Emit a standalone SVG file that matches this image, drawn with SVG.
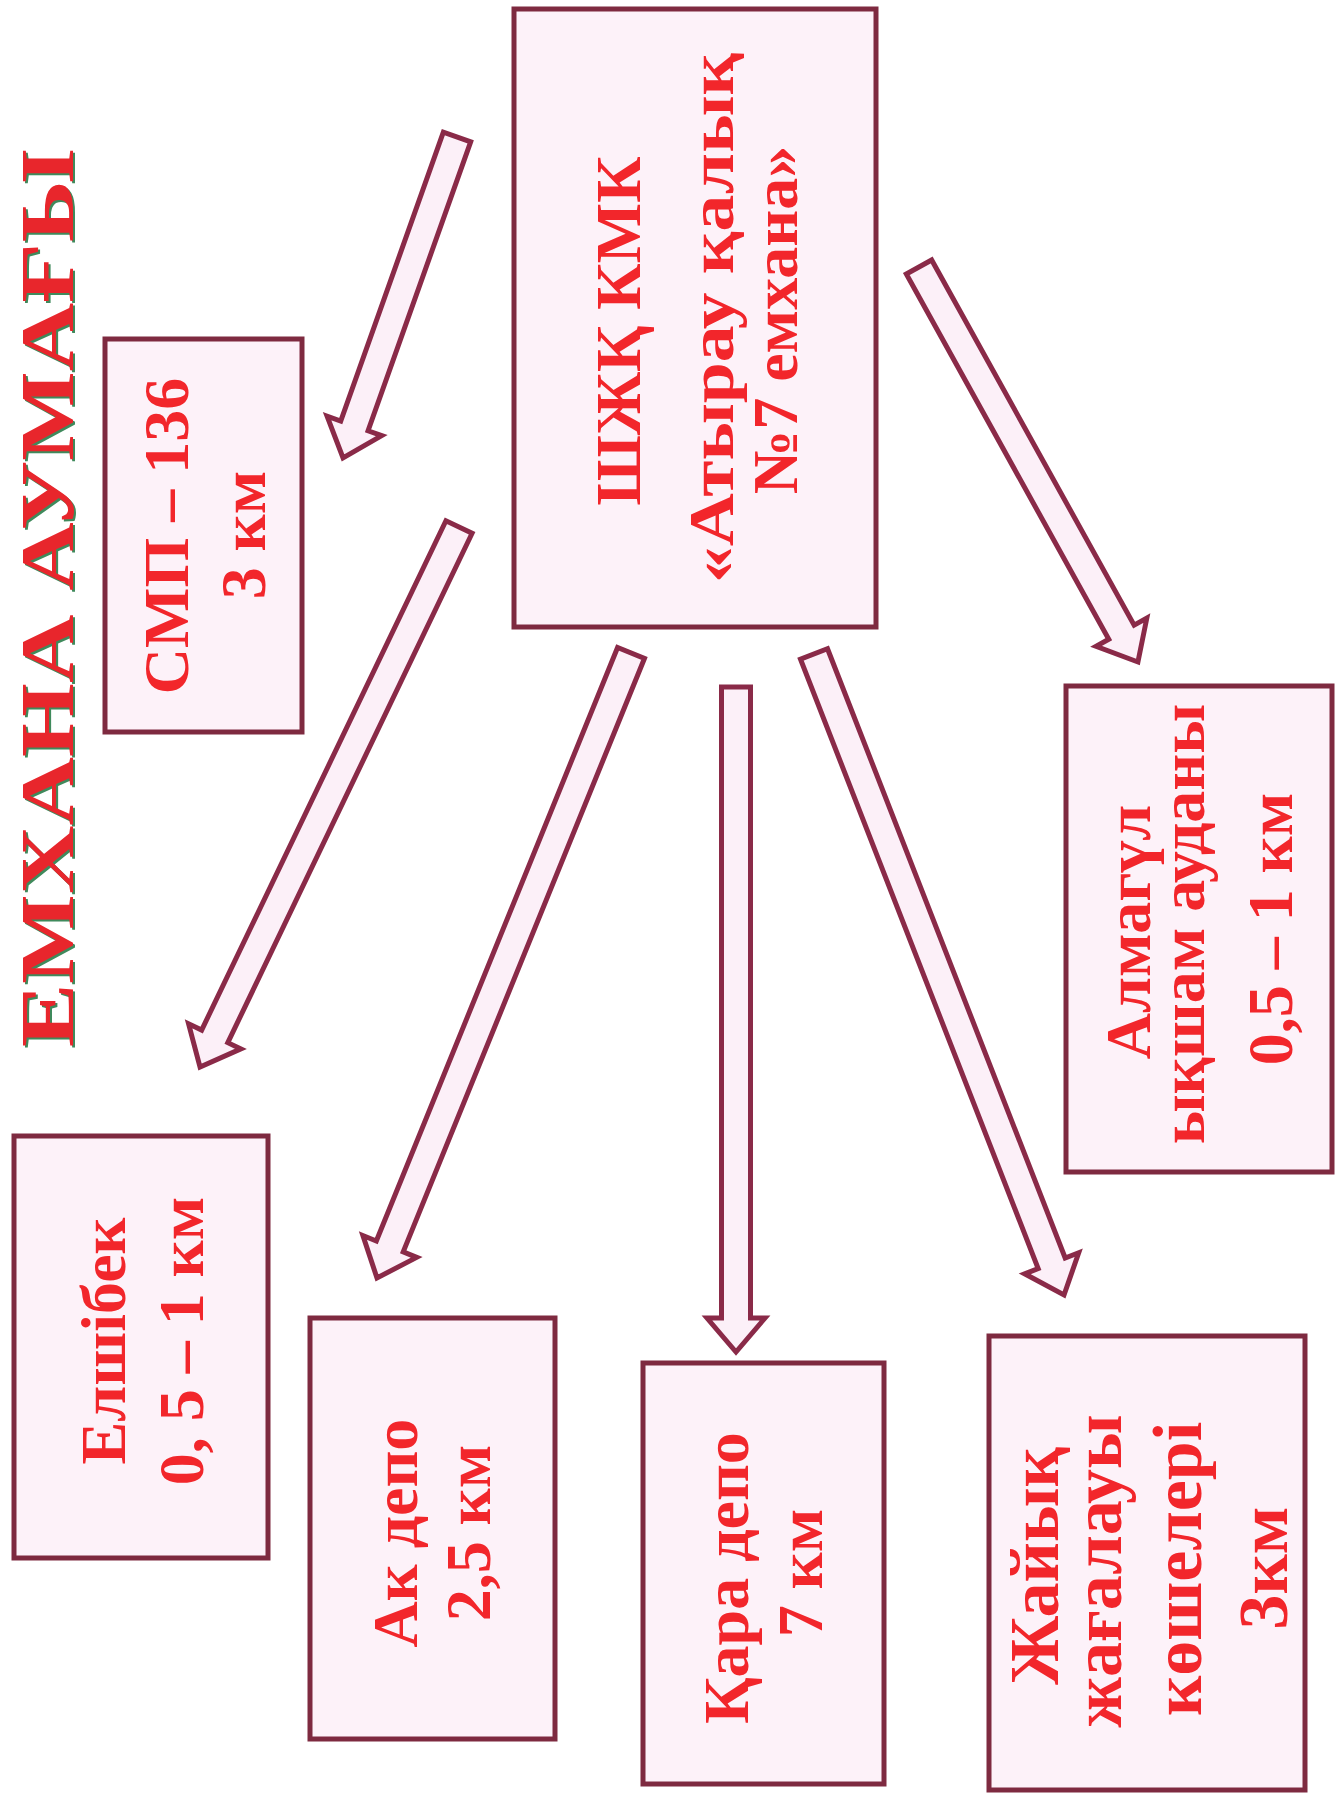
<svg xmlns="http://www.w3.org/2000/svg" width="1336" height="1793" viewBox="0 0 1336 1793">
<style>
.box{fill:#fdf2f9;stroke:#7e2a40;stroke-width:5}
.arr{fill:#fcf0f8;stroke:#8a2a48;stroke-width:5;stroke-linejoin:miter}
.t{font-family:"Liberation Serif","Times New Roman",serif;font-weight:bold;font-size:64px;fill:#f2262b;text-anchor:middle}
.t70{font-size:70px}
.title{font-family:"Liberation Serif","Times New Roman",serif;font-weight:bold;font-size:76px;text-anchor:middle}
</style>
<rect width="1336" height="1793" fill="#ffffff"/>
<g id="title">
<text class="title" fill="#3f8a5c" transform="translate(75,600) rotate(-90)" textLength="898" lengthAdjust="spacingAndGlyphs">ЕМХАНА АУМАҒЫ</text>
<text class="title" fill="#e8262c" transform="translate(73,598) rotate(-90)" textLength="898" lengthAdjust="spacingAndGlyphs">ЕМХАНА АУМАҒЫ</text>
</g>
<g id="connectors">
<path class="arr" transform="translate(457,137) rotate(109.55)" d="M0,-14.5 H306.6 V-29 L340.6,0 L306.6,29 V14.5 H0 Z"/>
<path class="arr" transform="translate(459,527) rotate(115.62)" d="M0,-14.5 H564.9 V-29 L598.9,0 L564.9,29 V14.5 H0 Z"/>
<path class="arr" transform="translate(631,653) rotate(112.12)" d="M0,-14.5 H640.6 V-29 L674.6,0 L640.6,29 V14.5 H0 Z"/>
<path class="arr" transform="translate(736,687) rotate(90)" d="M0,-14.5 H631 V-29 L665,0 L631,29 V14.5 H0 Z"/>
<path class="arr" transform="translate(814,654) rotate(68.69)" d="M0,-14.5 H654 V-29 L688,0 L654,29 V14.5 H0 Z"/>
<path class="arr" transform="translate(919,267) rotate(61)" d="M0,-14.5 H417.6 V-29 L451.6,0 L417.6,29 V14.5 H0 Z"/>
</g>
<g id="node-center">
<rect class="box" x="514" y="9" width="362" height="618"/>
<text class="t" transform="translate(640,331) rotate(-90)">ШЖҚ КМК</text>
<text class="t" transform="translate(733,318) rotate(-90)" textLength="530" lengthAdjust="spacingAndGlyphs">«Атырау қалық</text>
<text class="t" transform="translate(797,320) rotate(-90)">№7 емхана»</text>
</g>
<g id="node-smp">
<rect class="box" x="105" y="339" width="197" height="393"/>
<text class="t" transform="translate(188,536) rotate(-90)">СМП – 136</text>
<text class="t" transform="translate(265,535) rotate(-90)">3 км</text>
</g>
<g id="node-elshibek">
<rect class="box" x="14" y="1136" width="254" height="422"/>
<text class="t" transform="translate(125,1341) rotate(-90)">Елшібек</text>
<text class="t" transform="translate(203,1341) rotate(-90)">0, 5 – 1 км</text>
</g>
<g id="node-akdepo">
<rect class="box" x="310" y="1318" width="245" height="421"/>
<text class="t" transform="translate(417,1533) rotate(-90)">Ак депо</text>
<text class="t" transform="translate(490,1533) rotate(-90)">2,5 км</text>
</g>
<g id="node-karadepo">
<rect class="box" x="643" y="1363" width="241" height="421"/>
<text class="t" transform="translate(748,1578) rotate(-90)">Қара депо</text>
<text class="t" transform="translate(822,1573) rotate(-90)">7 км</text>
</g>
<g id="node-zhaiyk">
<rect class="box" x="989" y="1336" width="316" height="454"/>
<text class="t t70" transform="translate(1058,1566) rotate(-90)">Жайық</text>
<text class="t t70" transform="translate(1121,1571) rotate(-90)">жағалауы</text>
<text class="t t70" transform="translate(1201,1569) rotate(-90)">көшелері</text>
<text class="t t70" transform="translate(1287,1568) rotate(-90)">3км</text>
</g>
<g id="node-almagul">
<rect class="box" x="1066" y="686" width="266" height="486"/>
<text class="t" transform="translate(1150,932) rotate(-90)">Алмагүл</text>
<text class="t" transform="translate(1204,924) rotate(-90)">ықшам ауданы</text>
<text class="t" transform="translate(1292,929) rotate(-90)">0,5 – 1 км</text>
</g>
</svg>
